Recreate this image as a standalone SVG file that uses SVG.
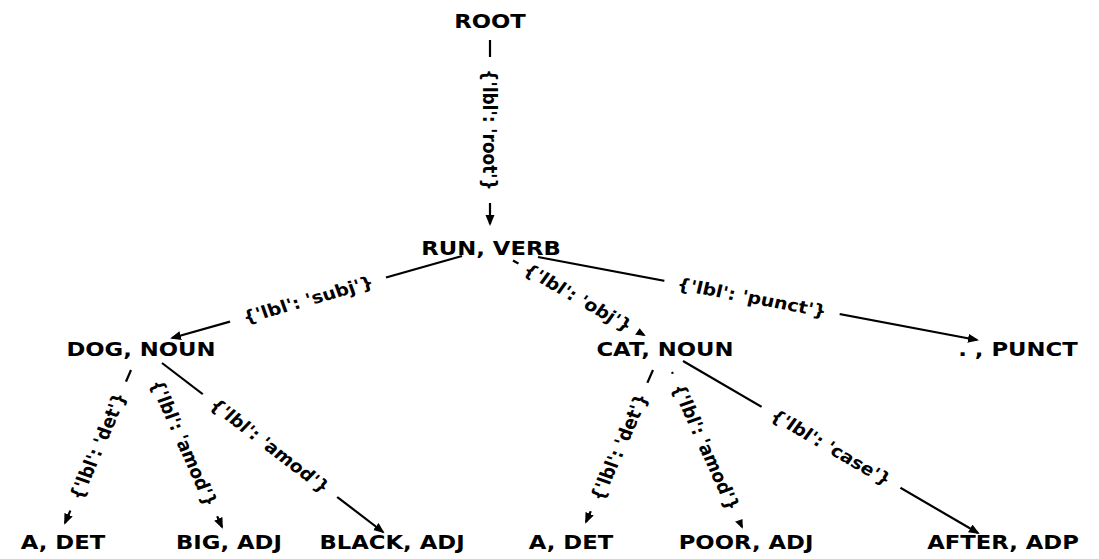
<svg xmlns="http://www.w3.org/2000/svg" width="1099" height="559" viewBox="0 0 1099 559">
<defs>
<marker id="arr" markerUnits="userSpaceOnUse" markerWidth="12" markerHeight="10" viewBox="0 0 12 10" refX="9" refY="4.5" orient="auto">
<path d="M0,0 L11,4.5 L0,9 z" fill="#000"/>
</marker>
<style>
.node text{font-family:"DejaVu Sans","Liberation Sans",sans-serif;font-weight:bold;font-size:20.3px;text-anchor:middle;fill:#000}
.edges line{stroke:#000;stroke-width:2.2;marker-end:url(#arr)}
.elabel text{font-family:"DejaVu Sans","Liberation Sans",sans-serif;font-weight:bold;font-size:17px;text-anchor:middle;dominant-baseline:central;fill:#000}
.elabel rect{fill:#fff}
</style>
</defs>
<rect width="1099" height="559" fill="#fff"/>
<g id="edges" class="edges">
<line x1="490" y1="40" x2="490" y2="224"/>
<line x1="462" y1="256" x2="172" y2="338"/>
<line x1="513" y1="260.5" x2="644" y2="335"/>
<line x1="538" y1="257" x2="977" y2="340"/>
<line x1="131" y1="370" x2="65" y2="523"/>
<line x1="152" y1="371" x2="222" y2="527"/>
<line x1="162" y1="363" x2="383" y2="532"/>
<line x1="653" y1="370" x2="586" y2="522"/>
<line x1="672" y1="372" x2="742" y2="527"/>
<line x1="683" y1="361" x2="978" y2="533"/>
</g>
<g id="n-root" class="node" transform="translate(490,27.5) scale(1.12,1)"><text>ROOT</text></g>
<g id="n-run" class="node" transform="translate(491,255) scale(1.12,1)"><text>RUN, VERB</text></g>
<g id="n-dog" class="node" transform="translate(141,355.5) scale(1.12,1)"><text>DOG, NOUN</text></g>
<g id="n-cat" class="node" transform="translate(665,355.5) scale(1.12,1)"><text>CAT, NOUN</text></g>
<g id="n-punct" class="node" transform="translate(1018,355.5) scale(1.12,1)"><text>. , PUNCT</text></g>
<g id="n-a1" class="node" transform="translate(63,549) scale(1.12,1)"><text>A, DET</text></g>
<g id="n-big" class="node" transform="translate(229,549) scale(1.12,1)"><text>BIG, ADJ</text></g>
<g id="n-black" class="node" transform="translate(392,549) scale(1.12,1)"><text>BLACK, ADJ</text></g>
<g id="n-a2" class="node" transform="translate(571,549) scale(1.12,1)"><text>A, DET</text></g>
<g id="n-poor" class="node" transform="translate(746,549) scale(1.12,1)"><text>POOR, ADJ</text></g>
<g id="n-after" class="node" transform="translate(1003,549) scale(1.12,1)"><text>AFTER, ADP</text></g>
<g id="edge-labels">
<g class="elabel" transform="translate(490,130) scale(1.12,1) rotate(90)"><rect x="-73" y="-9" width="146" height="18"/><text>{'lbl': 'root'}</text></g>
<g class="elabel" transform="translate(308,299.5) scale(1.12,1) rotate(-17.6)"><rect x="-73" y="-9" width="146" height="18"/><text>{'lbl': 'subj'}</text></g>
<g class="elabel" transform="translate(578,297.5) scale(1.12,1) rotate(32.5)"><rect x="-63" y="-9" width="126" height="18"/><text>{'lbl': 'obj'}</text></g>
<g class="elabel" transform="translate(752,297.4) scale(1.12,1) rotate(11.95)"><rect x="-80" y="-9" width="160" height="18"/><text>{'lbl': 'punct'}</text></g>
<g class="elabel" transform="translate(97.8,446) scale(1.12,1) rotate(-68.95)"><rect x="-69" y="-9" width="138" height="18"/><text>{'lbl': 'det'}</text></g>
<g class="elabel" transform="translate(184,443) scale(1.12,1) rotate(68.2)"><rect x="-79" y="-9" width="158" height="18"/><text>{'lbl': 'amod'}</text></g>
<g class="elabel" transform="translate(270,445.6) scale(1.12,1) rotate(40.6)"><rect x="-79" y="-9" width="158" height="18"/><text>{'lbl': 'amod'}</text></g>
<g class="elabel" transform="translate(619,447) scale(1.12,1) rotate(-68.5)"><rect x="-69" y="-9" width="138" height="18"/><text>{'lbl': 'det'}</text></g>
<g class="elabel" transform="translate(706,447) scale(1.12,1) rotate(68)"><rect x="-79" y="-9" width="158" height="18"/><text>{'lbl': 'amod'}</text></g>
<g class="elabel" transform="translate(831,447.3) scale(1.12,1) rotate(33.1)"><rect x="-74" y="-9" width="148" height="18"/><text>{'lbl': 'case'}</text></g>
</g>
</svg>
